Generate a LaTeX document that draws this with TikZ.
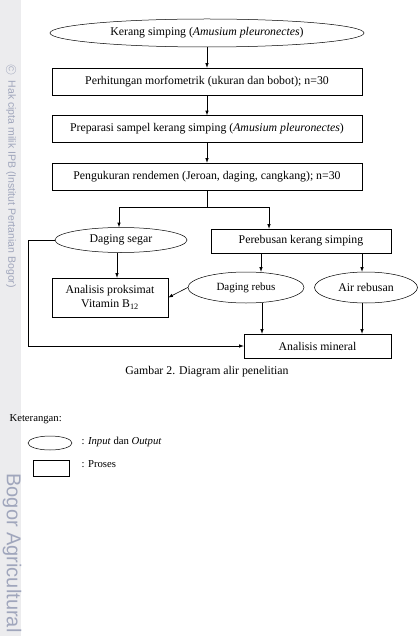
\documentclass[tikz,border=0pt]{standalone}
\usepackage{fontspec}
\setmainfont{Liberation Serif}
\newfontfamily\wmfont{Liberation Sans}
\usetikzlibrary{shapes.geometric}
\definecolor{wmtext}{RGB}{160,166,188}
\definecolor{wmstrip}{RGB}{236,236,238}

\begin{document}
\begin{tikzpicture}
    [x=1pt,y=-1pt,
    font=\fontsize{11.8}{13.5}\selectfont,
    io/.style={shape=ellipse,draw=black,line width=0.5pt,inner sep=0pt},
    proc/.style={shape=rectangle,draw=black,line width=0.5pt,inner sep=0pt},
    arc/.style={->,>=latex,line width=0.6pt},
    edge/.style={line width=0.6pt},
    wm/.style={rotate=-90,text=wmtext}]

    \useasboundingbox (0,0) rectangle (418,636);

    % watermark strip
    \fill [wmstrip] (0,0) rectangle (21,636);
    \node (wmA) [wm,font=\wmfont\fontsize{10.5}{12}\selectfont] at (11,176) {\textcircled{\raisebox{0.3pt}{\scriptsize C}}\ \ Hak cipta milik IPB (Institut Pertanian Bogor)};
    \node (wmB) [wm,font=\wmfont\fontsize{20}{22}\selectfont] at (12,553) {Bogor Agricultural};

    % flow
    \node (kerang) [io,minimum width=314,minimum height=28] at (207,33) {Kerang simping (\textit{Amusium pleuronectes})};
    \node (morfo) [proc,minimum width=310,minimum height=27] at (207,81.5) {Perhitungan morfometrik (ukuran dan bobot); n=30};
    \node (prep) [proc,minimum width=310,minimum height=27] at (207,129) {Preparasi sampel kerang simping (\textit{Amusium pleuronectes})};
    \node (rend) [proc,minimum width=310,minimum height=27] at (207,176.5) {Pengukuran rendemen (Jeroan, daging, cangkang); n=30};
    \coordinate (split) at (207,207);

    \node (segar) [io,minimum width=132,minimum height=25] at (121,240) {Daging segar};
    \node (rebus) [proc,minimum width=180,minimum height=24] at (301,241) {Perebusan kerang simping};
    \node (proks) [proc,minimum width=116,minimum height=39,align=center] at (110,297.5) {Analisis proksimat\\Vitamin B\textsubscript{12}};
    \node (drebus) [io,minimum width=116,minimum height=31,font=\fontsize{11}{12}\selectfont] at (246,287.5) {Daging rebus};
    \node (air) [io,minimum width=103,minimum height=31] at (366,287.5) {Air rebusan};
    \node (mineral) [proc,minimum width=147,minimum height=24] at (317.5,346) {Analisis mineral};

    \draw [arc] (kerang) -- (morfo);
    \draw [arc] (morfo) -- (prep);
    \draw [arc] (prep) -- (rend);
    \draw [edge] (rend) -- (split);
    \draw [arc] (split) -| ([xshift=-2pt]segar.north);
    \draw [arc] (split) -| ([xshift=-32pt]rebus.north);
    \draw [arc] ([xshift=-4pt]segar.south) -- ([xshift=-4pt]segar.south |- proks.north);
    \draw [arc] (drebus.west) -- (proks.east);
    \draw [arc] ([xshift=-40pt]rebus.south) -- ([xshift=-40pt]rebus.south |- drebus.north);
    \draw [arc] ([xshift=61pt]rebus.south) -- ([xshift=61pt]rebus.south |- air.north);
    \draw [arc] ([xshift=16pt]drebus.south) -- ([xshift=16pt]drebus.south |- mineral.north);
    \draw [arc] ([xshift=-4pt]air.south) -- ([xshift=-4pt]air.south |- mineral.north);
    \draw [arc] (segar.west) -- ++(-26,0) |- (mineral.west);

    \node (caption) at (207,372) {Gambar 2. Diagram alir penelitian};

    % legend
    \node (ket) [anchor=west,font=\fontsize{10.7}{12}\selectfont] at (6,419) {Keterangan:};
    \node (legio) [io,minimum width=44,minimum height=14] at (50,443) {};
    \node (legiotext) [anchor=west,font=\fontsize{10.7}{12}\selectfont] at (78,442) {: \textit{Input} dan \textit{Output}};
    \node (legproc) [proc,minimum width=36,minimum height=16] at (51,468) {};
    \node (legproctext) [anchor=west,font=\fontsize{10.7}{12}\selectfont] at (78,464) {: Proses};

\end{tikzpicture}
\end{document}
